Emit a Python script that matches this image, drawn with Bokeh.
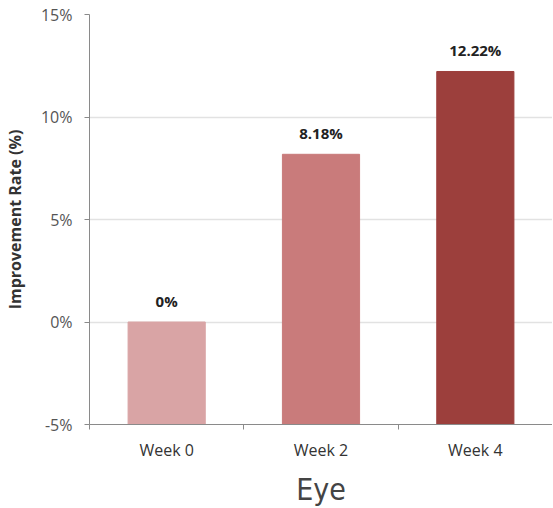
from bokeh.plotting import figure
from bokeh.models import Range1d, FixedTicker, PrintfTickFormatter, ColumnDataSource
from bokeh.core.properties import value
from bokeh.embed import file_html
from bokeh.resources import INLINE

weeks = ["Week 0", "Week 2", "Week 4"]
rates = [0.0, 8.18, 12.22]
colors = ["#d9a4a5", "#c97b7b", "#9c3f3c"]
y_ticks = [-5, 0, 5, 10, 15]

xs = [i + 0.5 for i in range(len(weeks))]
labels = [f"{v:g}%" for v in rates]
src = ColumnDataSource(dict(x=xs, top=rates, color=colors, label=labels))

p = figure(frame_width=463, frame_height=410, output_backend="svg", toolbar_location=None,
           x_range=Range1d(0, len(weeks)), y_range=Range1d(y_ticks[0], y_ticks[-1]),
           min_border_left=84, min_border_right=0, min_border_top=14, min_border_bottom=60)
p.outline_line_color = None
p.background_fill_color = "white"

p.vbar(x="x", top="top", bottom=y_ticks[0], width=0.5, color="color", source=src)
p.text(x="x", y="top", text="label", source=src, text_align="center", text_baseline="bottom",
       y_offset=-11, text_font=value("Open Sans"), text_font_style="bold",
       text_font_size="15px", text_color="#222222")

# y axis
ya = p.yaxis[0]
ya.ticker = FixedTicker(ticks=y_ticks)
ya.formatter = PrintfTickFormatter(format="%d%%")
ya.axis_label = "Improvement Rate (%)"
ya.axis_label_text_font = "Open Sans"
ya.axis_label_text_font_style = "bold"
ya.axis_label_text_font_size = "16px"
ya.axis_label_text_color = "#333333"
ya.axis_label_standoff = 12
ya.major_label_text_font = "Open Sans"
ya.major_label_text_font_size = "16px"
ya.major_label_text_color = "#555555"
ya.major_label_standoff = 12
ya.axis_line_color = "#8a8a8a"
ya.major_tick_line_color = "#8a8a8a"
ya.major_tick_out = 5
ya.major_tick_in = 0
ya.minor_tick_line_color = None

# x axis
xa = p.xaxis[0]
xa.ticker = FixedTicker(ticks=xs, minor_ticks=list(range(len(weeks) + 1)))
xa.major_label_overrides = {x: w for x, w in zip(xs, weeks)}
xa.major_tick_line_color = None
xa.minor_tick_line_color = "#8a8a8a"
xa.minor_tick_out = 5
xa.minor_tick_in = 0
xa.axis_line_color = "#8a8a8a"
xa.major_label_text_font = "Open Sans"
xa.major_label_text_font_size = "16px"
xa.major_label_text_color = "#333333"
xa.major_label_standoff = 8
xa.axis_label = "Eye"
xa.axis_label_text_font = "DejaVu Sans Condensed"
xa.axis_label_text_font_style = "normal"
xa.axis_label_text_font_size = "30px"
xa.axis_label_text_color = "#444444"
xa.axis_label_standoff = 8

p.xgrid.grid_line_color = None
p.ygrid.ticker = FixedTicker(ticks=y_ticks[1:])
p.ygrid.grid_line_color = "#e2e2e2"
p.ygrid.grid_line_width = 1.5

open("out.html", "w").write(file_html(p, INLINE))
